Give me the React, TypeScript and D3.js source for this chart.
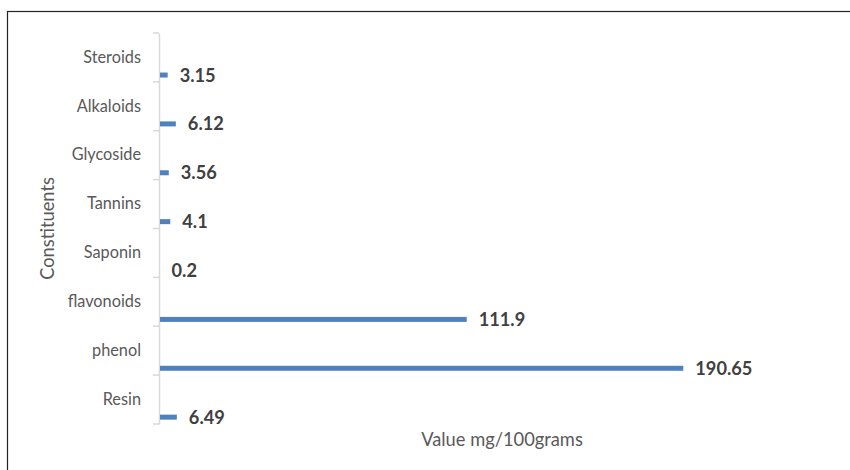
import React, { useRef, useEffect } from 'react';
import * as d3 from 'd3';

// categories from top to bottom
const categories = ['Steroids', 'Alkaloids', 'Glycoside', 'Tannins', 'Saponin', 'flavonoids', 'phenol', 'Resin'];
const values = [3.15, 6.12, 3.56, 4.1, 0.2, 111.9, 190.65, 6.49];
const valueLabels = ['3.15', '6.12', '3.56', '4.1', '0.2', '111.9', '190.65', '6.49'];

const App = () => {
  const svgRef = useRef<SVGSVGElement>(null);

  useEffect(() => {
    const w = 850;
    const h = 470;
    const font = 'Lato, "Open Sans", sans-serif';
    const svg = d3.select(svgRef.current).attr('width', w).attr('height', h);
    svg.selectAll('*').remove();

    // outer frame (only top + left visible in the original crop)
    svg
      .append('rect')
      .attr('x', 7.5)
      .attr('y', 11.5)
      .attr('width', 900)
      .attr('height', 500)
      .attr('fill', 'white')
      .attr('stroke', '#222')
      .attr('stroke-width', 1.2);

    const xScale = d3.scaleLinear().domain([0, 200]).range([159, 709]);
    const yScale = d3.scaleBand().domain(categories).range([33, 424]).padding(0);
    const bw = yScale.bandwidth();
    const barH = 5;

    // category axis
    const yAxis = d3.axisLeft(yScale).tickSize(0).tickPadding(18);
    const gy = svg.append('g').attr('transform', 'translate(159,0)').call(yAxis);
    gy.select('.domain').attr('stroke', '#d9d9d9').attr('stroke-width', 1.5);
    gy.selectAll('text')
      .attr('font-family', font)
      .attr('font-size', 16.3)
      .attr('fill', '#595959');

    // tick marks at the band boundaries
    const bounds = categories.map((c) => yScale(c) as number).concat([424]);
    svg
      .append('g')
      .selectAll('line')
      .data(bounds)
      .join('line')
      .attr('x1', 153)
      .attr('x2', 159)
      .attr('y1', (d) => d)
      .attr('y2', (d) => d)
      .attr('stroke', '#d9d9d9')
      .attr('stroke-width', 1.5);

    // bars
    svg
      .append('g')
      .selectAll('rect')
      .data(values)
      .join('rect')
      .attr('x', xScale(0) + 1)
      .attr('y', (d, i) => (yScale(categories[i]) as number) + bw * 0.86 - barH / 2)
      .attr('width', (d) => Math.max(0, xScale(d) - xScale(0) - 1))
      .attr('height', barH)
      .attr('fill', '#4f81bd');

    // value labels
    svg
      .append('g')
      .selectAll('text')
      .data(values)
      .join('text')
      .attr('x', (d) => xScale(d) + 12)
      .attr('y', (d, i) => (yScale(categories[i]) as number) + bw * 0.86)
      .attr('dy', '0.36em')
      .attr('font-family', font)
      .attr('font-size', 18.2)
      .attr('font-weight', 'bold')
      .attr('fill', '#404040')
      .text((d, i) => valueLabels[i]);

    // axis titles
    svg
      .append('text')
      .attr('x', 502)
      .attr('y', 446)
      .attr('text-anchor', 'middle')
      .attr('font-family', font)
      .attr('font-size', 18.3)
      .attr('fill', '#595959')
      .text('Value mg/100grams');

    svg
      .append('text')
      .attr('transform', 'translate(54,228.5) rotate(-90)')
      .attr('text-anchor', 'middle')
      .attr('font-family', font)
      .attr('font-size', 18.3)
      .attr('fill', '#595959')
      .text('Constituents');
  }, []);

  return (
    <div style={{ position: 'absolute', left: 0, top: 0 }}>
      <svg ref={svgRef}></svg>
    </div>
  );
};

export default App;
